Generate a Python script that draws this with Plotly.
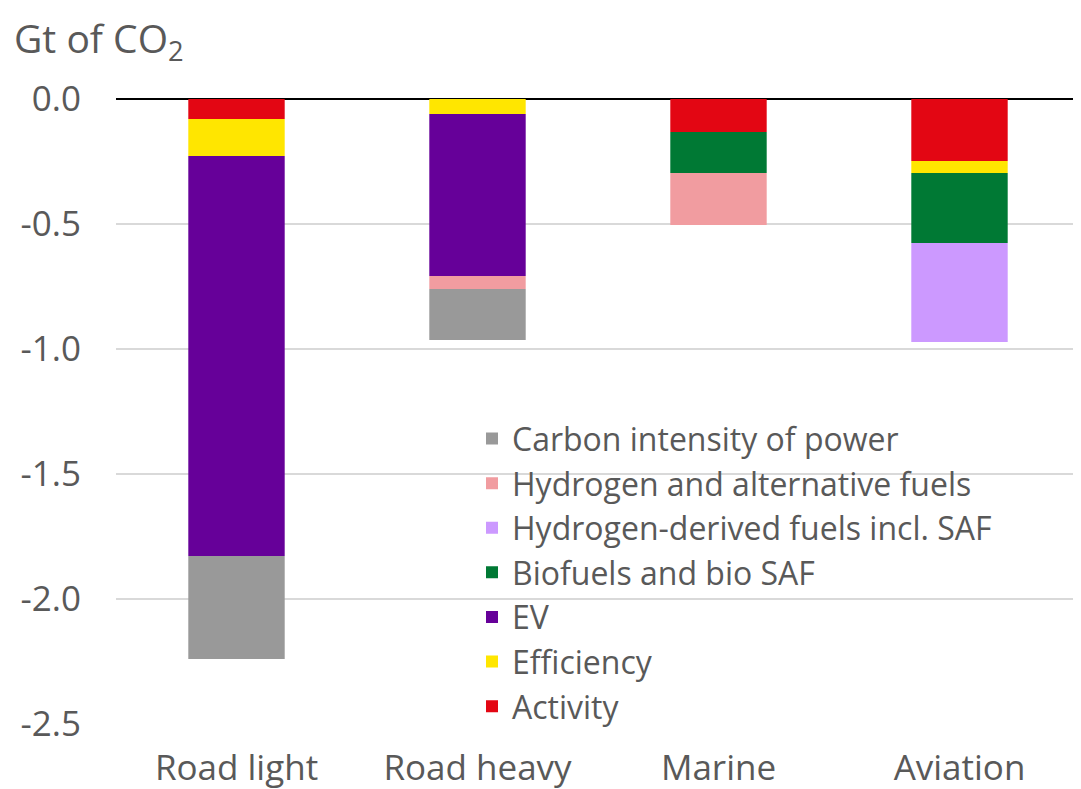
import plotly.graph_objects as go

categories = ["Road light", "Road heavy", "Marine", "Aviation"]

series_names = [
    "Activity",
    "Efficiency",
    "EV",
    "Biofuels and bio SAF",
    "Hydrogen-derived fuels incl. SAF",
    "Hydrogen and alternative fuels",
    "Carbon intensity of power",
]
activity = [-0.08, 0.0, -0.132, -0.248]
efficiency = [-0.148, -0.06, 0.0, -0.048]
ev = [-1.60, -0.648, 0.0, 0.0]
biofuels = [0.0, 0.0, -0.164, -0.28]
h_derived = [0.0, 0.0, 0.0, -0.396]
h_alt = [0.0, -0.052, -0.208, 0.0]
carbon_power = [-0.412, -0.204, 0.0, 0.0]

series_values = [activity, efficiency, ev, biofuels, h_derived, h_alt, carbon_power]
colors = ["#e30613", "#ffe600", "#660099", "#007934", "#cc99ff", "#f19ca0", "#999999"]

y_ticks = [0.0, -0.5, -1.0, -1.5, -2.0, -2.5]
y_tick_labels = ["0.0", "-0.5", "-1.0", "-1.5", "-2.0", "-2.5"]

FONT = "Open Sans"
GREY = "#595959"

# page body has an 8px default margin; size the figure to fill the rest
W, H = 1073, 781
L, R, T, B = 108, 1, 91, 65
PW = W - L - R

fig = go.Figure()
for name, vals, col in zip(series_names, series_values, colors):
    fig.add_trace(go.Bar(
        x=categories, y=vals, name=name,
        marker=dict(color=col, line=dict(width=0)),
    ))

fig.update_layout(
    width=W, height=H,
    barmode="relative",
    bargap=0.6,
    plot_bgcolor="white",
    paper_bgcolor="white",
    margin=dict(l=L, r=R, t=T, b=B, autoexpand=False),
    font=dict(family=FONT, color=GREY, size=34),
    legend=dict(
        x=(464 - L) / PW, y=0.242, xanchor="left", yanchor="middle",
        traceorder="reversed",
        font=dict(family=FONT, size=32, color=GREY),
        bgcolor="rgba(255,255,255,0)",
        itemwidth=30,
        tracegroupgap=0,
    ),
    xaxis=dict(
        showgrid=False, showline=False, ticks="",
        tickfont=dict(family=FONT, size=35, color=GREY),
        ticklabelstandoff=20,
    ),
    yaxis=dict(
        range=[-2.5, 0.0],
        tickvals=y_ticks, ticktext=y_tick_labels,
        showgrid=True, gridcolor="#d9d9d9", gridwidth=2,
        zeroline=True, zerolinecolor="#000000", zerolinewidth=2,
        showline=False, ticks="",
        tickfont=dict(family=FONT, size=35, color=GREY),
        ticklabelstandoff=34,
    ),
    annotations=[dict(
        text="Gt of CO<sub>2</sub>", xref="paper", yref="paper",
        x=(4 - L) / PW, y=1, xanchor="left", yanchor="bottom",
        yshift=28, showarrow=False,
        font=dict(family=FONT, size=39, color=GREY),
    )],
)

fig.write_html("out.html")
